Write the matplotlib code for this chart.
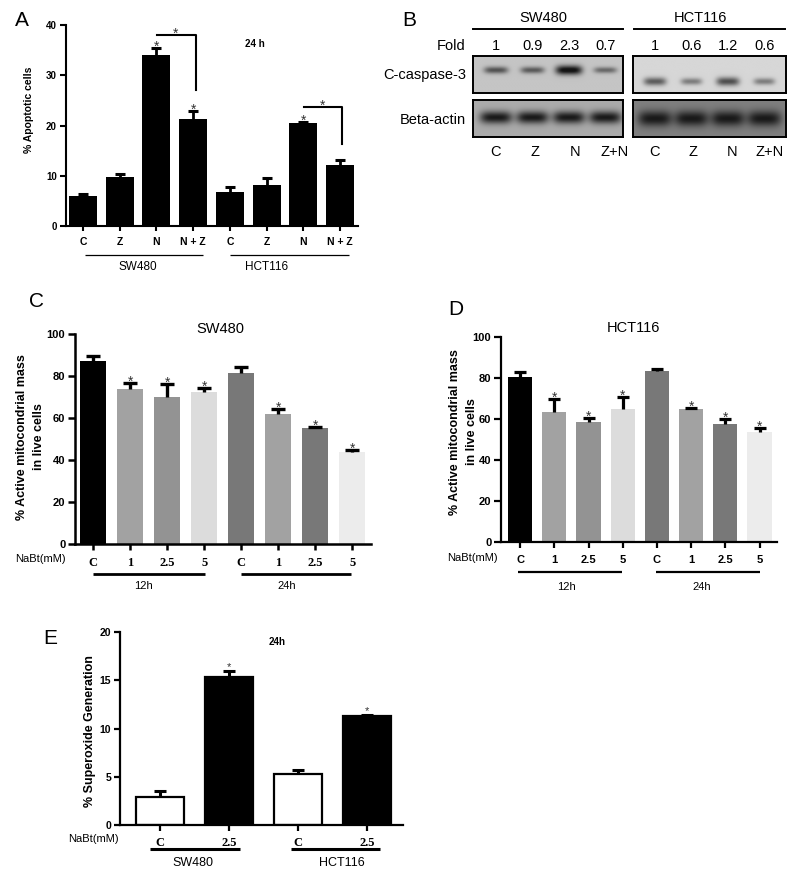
import numpy as np
import matplotlib
matplotlib.use('Agg')
import matplotlib.pyplot as plt
from matplotlib import transforms

plt.rcParams['font.family'] = ['Liberation Sans', 'DejaVu Sans']

# ---------------- data ----------------
a_cats = ['C', 'Z', 'N', 'N + Z', 'C', 'Z', 'N', 'N + Z']
a_groups = ['SW480', 'HCT116']
a_vals = [6.0, 9.8, 34.1, 21.2, 6.8, 8.1, 20.4, 12.2]
a_errs = [0.3, 0.6, 1.4, 1.7, 0.9, 1.5, 0.3, 1.0]
a_sig = [False, False, True, True, False, False, True, False]

b_cells = ['SW480', 'HCT116']
b_lanes = ['C', 'Z', 'N', 'Z+N']
b_fold_sw = [1, 0.9, 2.3, 0.7]
b_fold_hct = [1, 0.6, 1.2, 0.6]
b_fold_labels_sw = ['1', '0.9', '2.3', '0.7']
b_fold_labels_hct = ['1', '0.6', '1.2', '0.6']
b_rows = ['C-caspase-3', 'Beta-actin']

c_doses = ['C', '1', '2.5', '5', 'C', '1', '2.5', '5']
c_times = ['12h', '24h']
c_vals = [87.3, 73.7, 70.2, 72.4, 81.5, 61.8, 55.1, 44.0]
c_errs = [2.0, 2.9, 6.0, 2.0, 2.7, 2.4, 0.8, 0.8]
c_sig = [False, True, True, True, False, True, True, True]

d_doses = ['C', '1', '2.5', '5', 'C', '1', '2.5', '5']
d_vals = [80.5, 63.5, 58.5, 64.7, 83.3, 64.7, 57.5, 53.5]
d_errs = [2.5, 6.2, 1.8, 5.8, 0.8, 0.6, 2.7, 1.9]
d_sig = [False, True, True, True, False, True, True, True]

e_doses = ['C', '2.5', 'C', '2.5']
e_groups = ['SW480', 'HCT116']
e_vals = [2.9, 15.4, 5.3, 11.35]
e_errs = [0.6, 0.6, 0.45, 0.05]
e_sig = [False, True, False, True]

cd_colors = ['#000000', '#a2a2a2', '#939393', '#dcdcdc',
             '#787878', '#a2a2a2', '#787878', '#ececec']

# ---------------- figure ----------------
W, H = 800, 881
fig = plt.figure(figsize=(8, 8.81), dpi=100)


def px_axes(x0, y0, x1, y1):
    return fig.add_axes([x0 / W, 1 - y1 / H, (x1 - x0) / W, (y1 - y0) / H])


def ftext(x, y, s, **kw):
    kw.setdefault('ha', 'center')
    kw.setdefault('va', 'center')
    fig.text(x / W, 1 - y / H, s, **kw)


def dtext(ax, xd, ypx, s, **kw):
    tr = transforms.blended_transform_factory(ax.transData, fig.transFigure)
    kw.setdefault('ha', 'center')
    kw.setdefault('va', 'center')
    ax.text(xd, 1 - ypx / H, s, transform=tr, clip_on=False, **kw)


def dline(ax, x0, x1, ypx, lw):
    tr = transforms.blended_transform_factory(ax.transData, fig.transFigure)
    ax.plot([x0, x1], [1 - ypx / H, 1 - ypx / H], color='k', lw=lw,
            transform=tr, clip_on=False, solid_capstyle='butt')


def style(ax, ymax, yticks, lw=1.5, ylen=4.5, xlen=3.5, ysize=7):
    for s in ['top', 'right']:
        ax.spines[s].set_visible(False)
    for s in ['left', 'bottom']:
        ax.spines[s].set_linewidth(lw)
    ax.set_ylim(0, ymax)
    ax.set_yticks(yticks)
    ax.set_yticklabels([str(t) for t in yticks], fontweight='bold', fontsize=ysize)
    ax.tick_params(axis='y', length=ylen, width=lw, pad=2)
    ax.tick_params(axis='x', length=xlen, width=lw, labelbottom=False)


def errbars(ax, x, vals, errs, ms, mew, lw):
    x = np.asarray(x)
    vals = np.asarray(vals)
    tops = vals + np.asarray(errs)
    ax.vlines(x, vals, tops, color='k', lw=lw, zorder=3)
    ax.plot(x, tops, ls='none', marker='_', ms=ms, mew=mew, color='k', zorder=3)


def star(ax, x, y, size=10, off=-2):
    ax.annotate('*', (x, y), xytext=(0, off), textcoords='offset points',
                ha='center', va='baseline', fontsize=size, color='#333333',
                annotation_clip=False)


# ================= Panel A =================
ftext(22, 20, 'A', fontsize=15)
axA = px_axes(66, 25, 358, 226)
xA = np.arange(len(a_vals))
axA.bar(xA, a_vals, width=0.76, color='k', zorder=2)
errbars(axA, xA, a_vals, a_errs, ms=7.5, mew=2.2, lw=2)
axA.set_xlim(-0.46, 7.49)
style(axA, 40, [0, 10, 20, 30, 40], ysize=7)
axA.set_xticks(xA)
for i, c in enumerate(a_cats):
    dtext(axA, i, 242, c, fontsize=7.5, fontweight='bold')
for i in range(len(a_vals)):
    if a_sig[i]:
        star(axA, i, a_vals[i] + a_errs[i])
# brackets
axA.plot([2.02, 3.08, 3.08], [38.1, 38.1, 27.0], color='k', lw=1.5, clip_on=False)
star(axA, 2.52, 38.1)
axA.plot([6.02, 7.06, 7.06], [23.6, 23.6, 16.3], color='k', lw=1.5, clip_on=False)
star(axA, 6.52, 23.6)
dline(axA, 0.05, 3.27, 255, 0.9)
dline(axA, 4.0, 7.25, 255, 0.9)
dtext(axA, 1.5, 267, a_groups[0], fontsize=8.5)
dtext(axA, 5.0, 267, a_groups[1], fontsize=8.5)
ftext(255, 44, '24 h', fontsize=7, fontweight='bold')
ftext(29, 110, '% Apoptotic cells', rotation=90, fontsize=7.5, fontweight='bold')

# ================= Panel B =================
ftext(409, 21, 'B', fontsize=15)


def blot(box, folds, xlim, bg, amp, yc, sy, sx, fold_scale):
    ax = px_axes(*box)
    nx, ny = 400, 120
    xs = np.linspace(xlim[0], xlim[1], nx)
    ys = np.linspace(0, 1, ny)
    X, Y = np.meshgrid(xs, ys)
    img = np.full_like(X, bg)
    for i, f in enumerate(folds):
        g = f if fold_scale else 1.0
        syi = sy * (g ** 0.35 if fold_scale else 1.0)
        sxi = sx * (g ** 0.12 if fold_scale else 1.0)
        img -= amp * g ** 0.6 * np.exp(-((X - i) / sxi) ** 4 - ((Y - yc) / syi) ** 2)
    img = np.clip(img, 0.08, 1)
    ax.imshow(img, cmap='gray', vmin=0, vmax=1, aspect='auto',
              extent=[xlim[0], xlim[1], 1, 0], interpolation='bilinear')
    ax.set_xlim(xlim)
    ax.set_ylim(1, 0)
    ax.set_xticks([])
    ax.set_yticks([])
    for s in ax.spines.values():
        s.set_linewidth(1.4)
    return ax


xl_sw = (-0.63, 3.48)
xl_hct = (-0.60, 3.59)
ax_sw1 = blot((473, 56, 623, 93), b_fold_sw, xl_sw, 0.77, 0.45, 0.38, 0.095, 0.33, True)
ax_sw2 = blot((473, 100, 623, 137), [1, 1, 1, 1], xl_sw, 0.67, 0.57, 0.47, 0.17, 0.44, False)
ax_h1 = blot((633, 56, 786, 93), b_fold_hct, xl_hct, 0.84, 0.48, 0.69, 0.11, 0.31, True)
ax_h2 = blot((633, 100, 786, 137), [1, 1, 1, 1], xl_hct, 0.50, 0.40, 0.50, 0.21, 0.46, False)

ftext(543, 18, b_cells[0], fontsize=10.5)
ftext(700, 18, b_cells[1], fontsize=10.5)
fig.add_artist(plt.Line2D([473 / W, 623 / W], [1 - 29 / H, 1 - 29 / H], color='k', lw=1.4))
fig.add_artist(plt.Line2D([634 / W, 785 / W], [1 - 29 / H, 1 - 29 / H], color='k', lw=1.4))
ftext(466, 46, 'Fold', fontsize=10.5, ha='right')
ftext(466, 75, b_rows[0], fontsize=10.5, ha='right')
ftext(466, 120, b_rows[1], fontsize=10.5, ha='right')
for i in range(4):
    dtext(ax_sw1, i, 46, b_fold_labels_sw[i], fontsize=10.5)
    dtext(ax_h1, i, 46, b_fold_labels_hct[i], fontsize=10.5)
    dtext(ax_sw2, i + 0.08 * i, 152, b_lanes[i], fontsize=10.5)
    dtext(ax_h2, i + 0.05 * i, 152, b_lanes[i], fontsize=10.5)

# ================= Panel C =================
ftext(36, 302, 'C', fontsize=15)
axC = px_axes(75, 334, 371, 544)
xC = np.arange(len(c_vals))
axC.bar(xC, c_vals, width=0.71, color=cd_colors, zorder=2)
errbars(axC, xC, c_vals, c_errs, ms=9.5, mew=2.4, lw=2.4)
axC.set_xlim(-0.49, 7.51)
style(axC, 100, [0, 20, 40, 60, 80, 100], lw=1.8, ylen=5, xlen=4, ysize=8)
axC.set_xticks(xC)
for i in range(len(c_vals)):
    if c_sig[i]:
        star(axC, i, c_vals[i] + c_errs[i])
for i, c in enumerate(c_doses):
    dtext(axC, i, 563, c, fontsize=9, fontweight='bold', family='Liberation Serif')
dline(axC, 0.0, 3.03, 574, 2.0)
dline(axC, 4.0, 6.97, 574, 2.0)
dtext(axC, 1.35, 586, c_times[0], fontsize=8)
dtext(axC, 5.24, 586, c_times[1], fontsize=8)
ftext(40, 559, 'NaBt(mM)', fontsize=8)
ftext(220, 329, 'SW480', fontsize=10.5)
ftext(22, 437, '% Active mitocondrial mass', rotation=90, fontsize=9, fontweight='bold')
ftext(39, 437, 'in live cells', rotation=90, fontsize=9, fontweight='bold')

# ================= Panel D =================
ftext(456, 310, 'D', fontsize=15)
axD = px_axes(501, 336.7, 777, 542.3)
xD = np.arange(len(d_vals))
axD.bar(xD, d_vals, width=0.71, color=cd_colors, zorder=2)
errbars(axD, xD, d_vals, d_errs, ms=8.5, mew=2.3, lw=2.3)
axD.set_xlim(-0.56, 7.51)
style(axD, 100, [0, 20, 40, 60, 80, 100], lw=1.6, ylen=5, xlen=4, ysize=8)
axD.set_xticks(xD)
for i in range(len(d_vals)):
    if d_sig[i]:
        star(axD, i, d_vals[i] + d_errs[i])
for i, c in enumerate(d_doses):
    dtext(axD, i, 560, c, fontsize=8, fontweight='bold')
dline(axD, -0.06, 2.98, 572, 1.6)
dline(axD, 3.98, 7.02, 572, 1.6)
dtext(axD, 1.35, 587, c_times[0], fontsize=8)
dtext(axD, 5.32, 587, c_times[1], fontsize=8)
ftext(472, 558, 'NaBt(mM)', fontsize=8)
ftext(633, 328, 'HCT116', fontsize=10.5)
ftext(455, 432, '% Active mitocondrial mass', rotation=90, fontsize=9, fontweight='bold')
ftext(472, 432, 'in live cells', rotation=90, fontsize=9, fontweight='bold')

# ================= Panel E =================
ftext(50, 639, 'E', fontsize=15)
axE = px_axes(120, 632.3, 403, 825)
xE = np.arange(len(e_vals))
axE.bar(xE, e_vals, width=0.69, color=['white', 'k', 'white', 'k'],
        edgecolor='k', linewidth=1.6, zorder=2)
errbars(axE, xE, e_vals, e_errs, ms=9, mew=2.2, lw=2.2)
axE.set_xlim(-0.58, 3.52)
style(axE, 20, [0, 5, 10, 15, 20], lw=1.6, ylen=4.5, xlen=4, ysize=7.5)
axE.set_xticks(xE)
for i in range(len(e_vals)):
    if e_sig[i]:
        star(axE, i, e_vals[i] + e_errs[i], size=8, off=0.5)
for i, c in enumerate(e_doses):
    dtext(axE, i, 843, c, fontsize=9, fontweight='bold', family='Liberation Serif')
dline(axE, -0.145, 1.16, 849, 2.2)
dline(axE, 1.9, 3.19, 849, 2.2)
dtext(axE, 0.48, 863, e_groups[0], fontsize=9)
dtext(axE, 2.64, 863, e_groups[1], fontsize=9)
ftext(93, 839, 'NaBt(mM)', fontsize=8)
ftext(277, 642, '24h', fontsize=7, fontweight='bold')
ftext(90, 731, '% Superoxide Generation', rotation=90, fontsize=9, fontweight='bold')

fig.savefig('out.png', dpi=100)
